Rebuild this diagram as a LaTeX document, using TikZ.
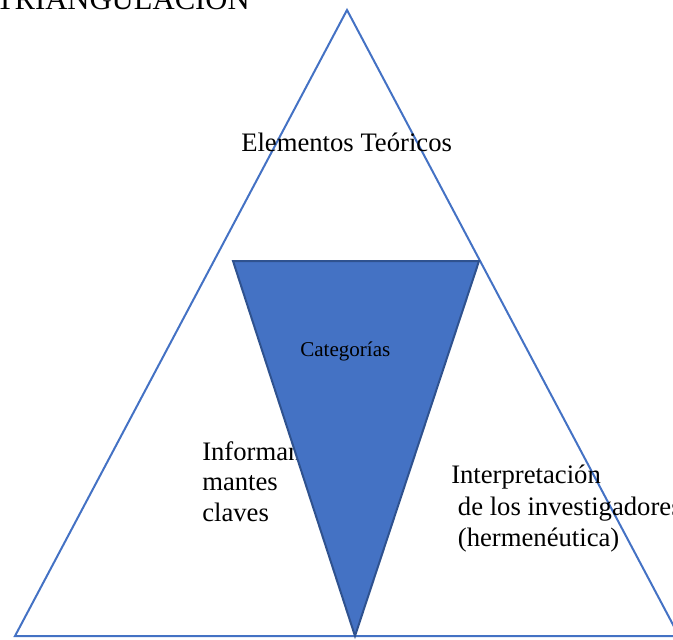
\documentclass[tikz,border=0pt]{standalone}
\usepackage{fontspec}
\setmainfont{Liberation Serif}
\definecolor{tblue}{HTML}{4472C4}
\definecolor{tdark}{HTML}{2F528F}
\begin{document}
\begin{tikzpicture}[x=0.75pt,y=-0.75pt,
  outer/.style={draw=tblue,line width=1.5pt,line join=miter},
  inner/.style={fill=tblue,draw=tdark,line width=1.5pt,line join=miter},
  lbl/.style={inner sep=0pt,anchor=base west,font=\fontsize{20}{24}\selectfont},
  small/.style={inner sep=0pt,anchor=base west,font=\fontsize{15.8}{19}\selectfont}]
\useasboundingbox (0,0) rectangle (673,639);
\coordinate (A) at (347,10);
\coordinate (BL) at (15,636);
\coordinate (BR) at (679,636);
\draw[outer] (A) -- (BL) -- (BR) -- cycle;
\node[inner sep=0pt,anchor=base east,font=\fontsize{23}{28}\selectfont] (title) at (250,9) {TRIANGULACION};
\node[lbl] (teo) at (241,151) {Elementos Teóricos};
\node[lbl] (inf1) at (202,460) {Informan};
\node[lbl] (inf2) at (202,490) {mantes};
\node[lbl] (inf3) at (202,521) {claves};
\node[lbl] (int1) at (451,483) {Interpretación};
\node[lbl] (int2) at (451,515) {\ de los investigadores};
\node[lbl] (int3) at (451,546) {\ (hermenéutica)};
\coordinate (TL) at (233,261);
\coordinate (TR) at (479,261);
\coordinate (TB) at (355,636);
\draw[inner] (TL) -- (TR) -- (TB) -- cycle;
\node[small] (cat) at (300,356) {Categorías};
\end{tikzpicture}
\end{document}
